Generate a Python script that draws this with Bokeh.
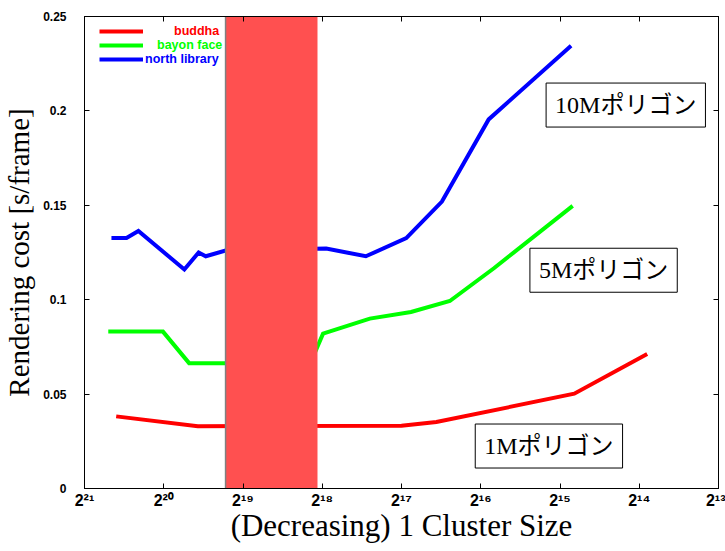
from bokeh.plotting import figure
from bokeh.models import Range1d, FixedTicker, LinearAxis, Legend, LegendItem, Label
from bokeh.embed import file_html
from bokeh.resources import INLINE

# ---- data (x in log2 of cluster size, decreasing to the right) ----
x_ticks = [21, 20, 19, 18, 17, 16, 15, 14, 13]
x_tick_labels = ["2²¹", "2²⁰", "2¹⁹", "2¹⁸", "2¹⁷", "2¹⁶", "2¹⁵", "2¹⁴", "2¹³"]
y_ticks = [0, 0.05, 0.1, 0.15, 0.2, 0.25]
y_tick_labels = ["0", "0.05", "0.1", "0.15", "0.2", "0.25"]

buddha_x = [20.60, 19.57, 17.00, 16.56, 14.82, 13.90]
buddha_y = [0.0382, 0.0330, 0.0332, 0.0352, 0.0502, 0.0712]

bayon_x = [20.70, 20.01, 19.68, 18.15, 17.99, 17.40, 16.88, 16.39, 15.83, 14.84]
bayon_y = [0.0831, 0.0831, 0.0664, 0.0664, 0.0820, 0.0900, 0.0935, 0.0993, 0.1168, 0.1497]

library_x = [20.66, 20.47, 20.32, 19.74, 19.56, 19.47, 19.22, 17.95, 17.45, 16.94, 16.49, 15.90, 14.86]
library_y = [0.1327, 0.1327, 0.1364, 0.1160, 0.1250, 0.1230, 0.1260, 0.1271, 0.1230, 0.1326, 0.1520, 0.1955, 0.2345]

series_names = ["buddha", "bayon face", "north library"]
series_colors = ["#ff0000", "#00ff00", "#0000ff"]

mask_left = [19.22]
mask_right = [18.06]

box_texts = ["10Mポリゴン", "5Mポリゴン", "1Mポリゴン"]
box_x = [14.17, 14.45, 15.14]
box_y = [0.2031, 0.1156, 0.0225]

x_title = "(Decreasing) 1 Cluster Size"
y_title = "Rendering cost [s/frame]"

x_start, x_end = 21, 13
y_start, y_end = 0, 0.25

p = figure(width=725, height=551, output_backend="svg", toolbar_location=None,
           x_range=Range1d(x_start, x_end), y_range=Range1d(y_start, y_end),
           min_border_left=83, min_border_right=7, min_border_top=16, min_border_bottom=63)
p.xgrid.visible = False
p.ygrid.visible = False
p.outline_line_color = "black"
p.outline_line_alpha = 1.0
p.background_fill_color = "white"
p.border_fill_color = "white"

tick_font = "Liberation Sans"

p.xaxis.ticker = FixedTicker(ticks=x_ticks)
p.xaxis.major_label_overrides = dict(zip(x_ticks, x_tick_labels))
p.xaxis.major_label_text_align = "left"
p.xaxis.major_label_text_font = tick_font
p.xaxis.major_label_text_font_style = "bold"
p.xaxis.major_label_text_font_size = "16px"
p.xaxis.major_label_standoff = 3
p.xaxis.axis_label = x_title
p.xaxis.axis_label_text_font = "Liberation Serif"
p.xaxis.axis_label_text_font_style = "normal"
p.xaxis.axis_label_text_font_size = "31px"
p.xaxis.axis_label_text_line_height = 1.0
p.xaxis.axis_label_standoff = -4

p.yaxis.ticker = FixedTicker(ticks=y_ticks)
p.yaxis.major_label_overrides = dict(zip(y_ticks, y_tick_labels))
p.yaxis.major_label_text_font = tick_font
p.yaxis.major_label_text_font_style = "bold"
p.yaxis.major_label_text_font_size = "12px"
p.yaxis.major_label_standoff = 18
p.yaxis.axis_label = y_title
p.yaxis.axis_label_text_font = "Liberation Serif"
p.yaxis.axis_label_text_font_style = "normal"
p.yaxis.axis_label_text_font_size = "29px"
p.yaxis.axis_label_standoff = 5

for ax in (p.xaxis, p.yaxis):
    ax.major_tick_in = 5
    ax.major_tick_out = 0
    ax.minor_tick_line_color = None
    ax.axis_line_color = "black"
    ax.major_tick_line_color = "black"
    ax.major_label_text_color = "black"
    ax.axis_label_text_color = "black"

top_axis = LinearAxis(ticker=FixedTicker(ticks=x_ticks),
                      major_label_overrides={t: "" for t in x_ticks},
                      major_label_text_color=None, major_label_text_font_size="1px",
                      major_tick_in=5, major_tick_out=0, minor_tick_line_color=None,
                      major_label_standoff=0)
right_axis = LinearAxis(ticker=FixedTicker(ticks=y_ticks),
                        major_label_overrides={t: "" for t in y_ticks},
                        major_label_text_color=None, major_label_text_font_size="1px",
                        major_tick_in=5, major_tick_out=0, minor_tick_line_color=None,
                        major_label_standoff=0)
p.add_layout(top_axis, "above")
p.add_layout(right_axis, "right")

renderers = []
for xs, ys, c in [(buddha_x, buddha_y, series_colors[0]),
                  (bayon_x, bayon_y, series_colors[1]),
                  (library_x, library_y, series_colors[2])]:
    r = p.line(xs, ys, line_color=c, line_width=4, line_join="miter")
    renderers.append(r)

# masking rectangle
p.quad(left=mask_left, right=mask_right, bottom=[y_start], top=[y_end],
       fill_color="#ff5050", line_color=None)
p.segment(x0=mask_left, x1=mask_left, y0=[y_start], y1=[y_end], line_color="#808080", line_width=1.5)

# legends (one per series so each label takes its colour)
frame_h = 472
row_tops = [15, 29, 43]
standoffs = [31, 14, 2]
for name, c, r, top, so in zip(series_names, series_colors, renderers, row_tops, standoffs):
    leg = Legend(items=[LegendItem(label=name, renderers=[r])],
                 location=(15, frame_h - (top + 7)),
                 orientation="vertical", padding=0, margin=0, spacing=0,
                 glyph_width=44, glyph_height=14, label_height=14,
                 label_standoff=so, label_text_align="left",
                 label_text_font=tick_font, label_text_font_style="bold",
                 label_text_font_size="12.5px", label_text_color=c,
                 border_line_color=None, background_fill_alpha=0)
    p.add_layout(leg)

for t, bx, by in zip(box_texts, box_x, box_y):
    p.add_layout(Label(x=bx, y=by, text=t, text_align="center", text_baseline="middle",
                       text_font="'Liberation Serif', 'Noto Sans CJK JP'", text_font_size="24px",
                       text_color="black", border_line_color="black", border_line_width=1,
                       background_fill_color="white", padding=9))

open("out.html", "w").write(file_html(p, INLINE))
